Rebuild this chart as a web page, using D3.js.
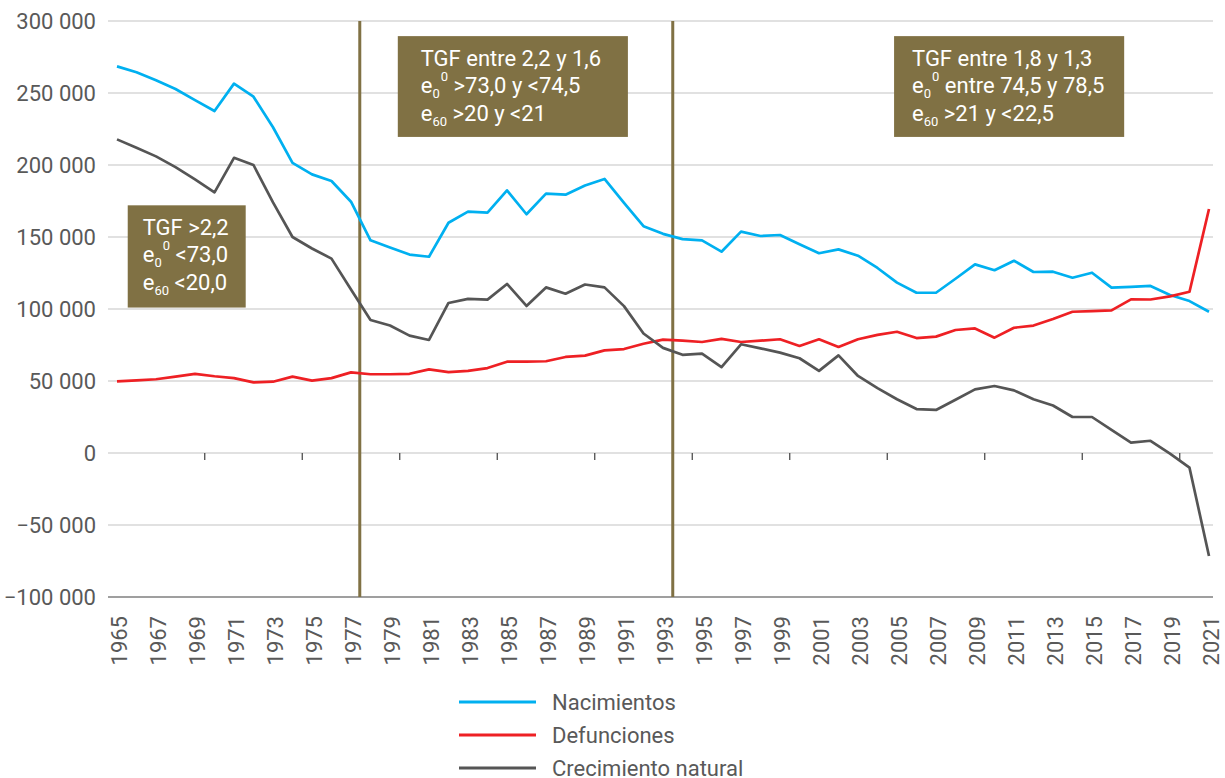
<!DOCTYPE html>
<html>
<head>
<meta charset="utf-8">
<script src="https://cdn.jsdelivr.net/npm/d3@7"></script>
<style>
  html, body { margin: 0; padding: 0; background: #ffffff; }
  svg { display: block; font-family: Roboto, "Noto Sans", sans-serif; }
</style>
</head>
<body>
<svg id="chart" width="1225" height="778"></svg>
<script>
const years = d3.range(1965, 2022);

const nacimientos = [
  268500, 264400, 258900, 252800, 245100, 237500, 256500, 247400, 226200, 201500,
  193500, 188900, 174500, 147700, 142700, 137800, 136300, 159900, 167600, 166900,
  182400, 165800, 180100, 179400, 185800, 190300, 173700, 157500, 152200, 148500,
  147700, 139800, 153700, 150700, 151400, 145000, 138700, 141400, 137000, 128500,
  118300, 111300, 111300, 121000, 131000, 126900, 133500, 125700, 125900, 121700,
  125200, 114800, 115400, 116000, 109700, 105500, 98100
];

const defunciones = [
  49800, 50500, 51200, 53000, 55000, 53300, 52000, 49000, 49500, 53000,
  50300, 52000, 56000, 54700, 54700, 55000, 58100, 56200, 57000, 59000,
  63400, 63500, 63700, 66700, 67600, 71300, 72200, 75900, 78700, 78000,
  77100, 79200, 77100, 78000, 79000, 74300, 79000, 73600, 79000, 82000,
  84200, 79800, 80800, 85400, 86500, 80100, 87000, 88500, 93000, 98100,
  98500, 99000, 106700, 106600, 108800, 112000, 169400
];

const crecimiento = [
  217800, 212000, 206000, 198500, 190000, 181000, 205000, 200000, 174000, 150000,
  142000, 135000, 113500, 92400, 88500, 81500, 78500, 104200, 107000, 106500,
  117400, 102100, 115000, 110600, 117000, 115000, 102000, 83000, 73000, 68200,
  69000, 59700, 75500, 72700, 69700, 65800, 57000, 67800, 53500, 45000,
  37300, 30500, 29900, 37000, 44200, 46500, 43500, 37300, 33000, 25000,
  25000, 16000, 7200, 8500, -500, -10200, -71500
];

const yTicks = [300000, 250000, 200000, 150000, 100000, 50000, 0, -50000, -100000];
const xLabelYears = years.filter(y => (y - 1965) % 2 === 0);
const tickBoundaries = [1969.5, 1974.5, 1979.5, 1984.5, 1989.5, 1994.5, 1999.5, 2004.5, 2009.5, 2014.5, 2019.5];
const dividerYears = [1977.45, 1993.5];

const seriesNames = ["Nacimientos", "Defunciones", "Crecimiento natural"];
const seriesColors = ["#00b0f0", "#ee2024", "#555555"];

const annotations = [
  { x0: 1965.55, x1: 1971.6, top: 172000, bottom: 101000, pad: 15,
    lines: [["TGF >2,2"], ["e", "0", "0", " <73,0"], ["e", "60", null, " <20,0"]] },
  { x0: 1979.4, x1: 1991.2, top: 289500, bottom: 219500, pad: 23,
    lines: [["TGF entre 2,2 y 1,6"], ["e", "0", "0", " >73,0 y <74,5"], ["e", "60", null, " >20 y <21"]] },
  { x0: 2004.85, x1: 2016.65, top: 289500, bottom: 219500, pad: 18,
    lines: [["TGF entre 1,8 y 1,3"], ["e", "0", "0", " entre 74,5 y 78,5"], ["e", "60", null, " >21 y <22,5"]] }
];

const svg = d3.select("#chart");
const x = d3.scaleLinear().domain([1965, 2021]).range([117, 1209]);
const y = d3.scaleLinear().domain([-100000, 300000]).range([597, 21]);

const textColor = "#595959";
const olive = "#807144";
const fmt = v => d3.format(",")(v).replace(/,/g, " ");

// gridlines
svg.append("g").selectAll("line").data(yTicks).join("line")
  .attr("x1", 108).attr("x2", 1213)
  .attr("y1", d => y(d)).attr("y2", d => y(d))
  .attr("stroke", d => d === -100000 ? "#7f7f7f" : "#c4c4c4")
  .attr("stroke-width", d => d === -100000 ? 1.5 : 1.2);

// y axis labels
svg.append("g").selectAll("text").data(yTicks).join("text")
  .attr("x", 96).attr("y", d => y(d))
  .attr("text-anchor", "end").attr("dominant-baseline", "central")
  .attr("font-size", 22).attr("fill", textColor)
  .text(d => fmt(d));

// tick marks on zero line
svg.append("g").selectAll("line").data(tickBoundaries).join("line")
  .attr("x1", d => x(d)).attr("x2", d => x(d))
  .attr("y1", y(0)).attr("y2", y(0) + 7)
  .attr("stroke", "#404040").attr("stroke-width", 1.2);

// x axis labels
svg.append("g").selectAll("text").data(xLabelYears).join("text")
  .attr("transform", d => `translate(${x(d) + 2},616) rotate(-90)`)
  .attr("text-anchor", "end").attr("dominant-baseline", "central")
  .attr("font-size", 22).attr("fill", textColor)
  .text(d => d);

// divider lines
svg.append("g").selectAll("line").data(dividerYears).join("line")
  .attr("x1", d => x(d)).attr("x2", d => x(d))
  .attr("y1", y(300000)).attr("y2", y(-100000))
  .attr("stroke", olive).attr("stroke-width", 3);

// annotation boxes
annotations.forEach(a => {
  const g = svg.append("g");
  g.append("rect")
    .attr("x", x(a.x0)).attr("y", y(a.top))
    .attr("width", x(a.x1) - x(a.x0)).attr("height", y(a.bottom) - y(a.top))
    .attr("fill", olive);
  const tx = x(a.x0) + a.pad;
  const base = y(a.top) + 29.5;
  a.lines.forEach((ln, i) => {
    const t = g.append("text")
      .attr("x", tx).attr("y", base + i * 27.5)
      .attr("font-size", 22).attr("fill", "#ffffff");
    if (ln.length === 1) {
      t.text(ln[0]);
    } else {
      t.append("tspan").text(ln[0]);
      t.append("tspan").attr("font-size", 13).attr("dy", 5).text(ln[1]);
      let back = -5;
      if (ln[2]) {
        t.append("tspan").attr("font-size", 13).attr("dx", 1).attr("dy", -17).text(ln[2]);
        back = 12;
      }
      t.append("tspan").attr("dy", back).text(ln[3]);
    }
  });
});

// lines
const allSeries = [nacimientos, defunciones, crecimiento];
const lineGen = d3.line().x((d, i) => x(years[i])).y(d => y(d));
svg.append("g").selectAll("path").data(allSeries).join("path")
  .attr("d", d => lineGen(d))
  .attr("fill", "none")
  .attr("stroke", (d, i) => seriesColors[i])
  .attr("stroke-width", 2.7)
  .attr("stroke-linejoin", "round");

// legend
const legend = svg.append("g");
seriesNames.forEach((name, i) => {
  const ly = 702 + i * 33;
  legend.append("line")
    .attr("x1", 459).attr("x2", 536).attr("y1", ly).attr("y2", ly)
    .attr("stroke", seriesColors[i]).attr("stroke-width", 3);
  legend.append("text")
    .attr("x", 552).attr("y", ly)
    .attr("dominant-baseline", "central")
    .attr("font-size", 22).attr("fill", textColor)
    .text(name);
});
</script>
</body>
</html>
